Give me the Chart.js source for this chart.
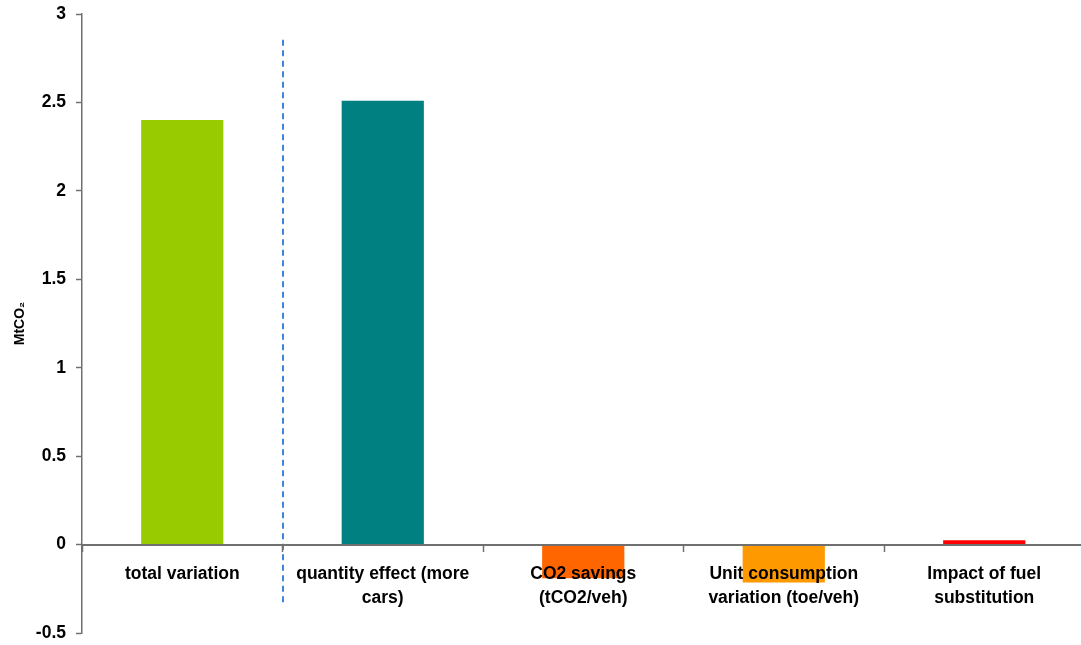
<!DOCTYPE html>
<html>
<head>
<meta charset="utf-8">
<style>
  html, body { margin: 0; padding: 0; background: #ffffff; overflow: hidden; }
  #wrap { width: 1090px; height: 645px; }
</style>
<script src="https://cdn.jsdelivr.net/npm/chart.js@4/dist/chart.umd.min.js"></script>
</head>
<body>
<div id="wrap"><canvas id="chart" width="1090" height="645"></canvas></div>
<script>
// Decomposition of the change in car CO2 emissions (MtCO2)
const categories = [
  'total variation',
  ['quantity effect (more', 'cars)'],
  ['CO2 savings', '(tCO2/veh)'],
  ['Unit consumption', 'variation (toe/veh)'],
  ['Impact of fuel', 'substitution']
];
const values = [2.40, 2.51, -0.19, -0.215, 0.025];
const barColors = ['#99CC00', '#008080', '#FF6600', '#FF9900', '#FF0000'];
const yTicks = [-0.5, 0, 0.5, 1, 1.5, 2, 2.5, 3];

const axisColor = '#707070';
const fontFamily = 'Arial, "Liberation Sans", Helvetica, sans-serif';

// Dashed separator between the total and its components
const separatorPlugin = {
  id: 'separator',
  afterDatasetsDraw(chart) {
    const x = chart.scales.x.getPixelForValue(0.5);
    const yTop = chart.scales.y.getPixelForValue(2.855);
    const yBot = chart.scales.y.getPixelForValue(-0.35);
    const ctx = chart.ctx;
    ctx.save();
    ctx.strokeStyle = '#2a78d4';
    ctx.lineWidth = 1.8;
    ctx.setLineDash([6, 4.5]);
    ctx.beginPath();
    ctx.moveTo(Math.round(x), yTop);
    ctx.lineTo(Math.round(x), yBot);
    ctx.stroke();
    ctx.restore();
  }
};

new Chart(document.getElementById('chart'), {
  type: 'bar',
  data: {
    labels: categories,
    datasets: [{
      data: values,
      backgroundColor: barColors,
      borderWidth: 0,
      barPercentage: 0.41,
      categoryPercentage: 1.0
    }]
  },
  options: {
    responsive: false,
    animation: false,
    events: [],
    layout: { padding: { top: 14, bottom: 12, left: 0, right: 5.5 } },
    plugins: {
      legend: { display: false },
      tooltip: { enabled: false }
    },
    scales: {
      x: {
        position: { y: 0 },
        offset: true,
        grid: {
          display: true,
          drawOnChartArea: false,
          drawTicks: true,
          tickLength: 6,
          tickColor: axisColor,
          tickWidth: 1.5,
          offset: true,
          z: 1
        },
        border: { display: true, color: axisColor, width: 2, z: 1 },
        ticks: {
          z: 1,
          color: '#000000',
          padding: 12,
          maxRotation: 0,
          autoSkip: false,
          font: { family: fontFamily, size: 17.5, weight: 'bold', lineHeight: 1.37 }
        }
      },
      y: {
        min: -0.5,
        max: 3,
        afterBuildTicks(scale) {
          scale.ticks = yTicks.map(v => ({ value: v }));
        },
        afterFit(scale) {
          scale.width = 82;
          scale.paddingTop = 0;
          scale.paddingBottom = 0;
        },
        grid: {
          display: true,
          drawOnChartArea: false,
          drawTicks: true,
          tickLength: 6,
          tickColor: axisColor,
          tickWidth: 1.5
        },
        border: { display: true, color: axisColor, width: 1.5 },
        title: {
          display: true,
          text: 'MtCO₂',
          color: '#000000',
          padding: { top: 12, bottom: 0 },
          font: { family: fontFamily, size: 14, weight: 'bold' }
        },
        ticks: {
          color: '#000000',
          padding: 10,
          font: { family: fontFamily, size: 17.5, weight: 'bold' },
          callback: v => String(v)
        }
      }
    }
  },
  plugins: [separatorPlugin]
});
</script>
</body>
</html>
